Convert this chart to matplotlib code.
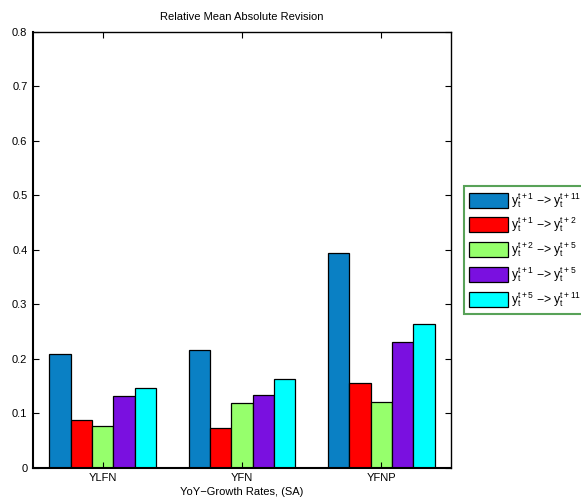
import matplotlib
matplotlib.use("Agg")
import matplotlib.pyplot as plt
import numpy as np

plt.rcParams['font.family'] = ['Liberation Sans', 'DejaVu Sans']
plt.rcParams['mathtext.fontset'] = 'custom'
plt.rcParams['mathtext.rm'] = 'Liberation Sans'
plt.rcParams['mathtext.it'] = 'Liberation Sans'

categories = ["YLFN", "YFN", "YFNP"]
series_labels = [r"$\mathregular{y_t^{t+1}}$ −> $\mathregular{y_t^{t+11}}$",
                 r"$\mathregular{y_t^{t+1}}$ −> $\mathregular{y_t^{t+2}}$",
                 r"$\mathregular{y_t^{t+2}}$ −> $\mathregular{y_t^{t+5}}$",
                 r"$\mathregular{y_t^{t+1}}$ −> $\mathregular{y_t^{t+5}}$",
                 r"$\mathregular{y_t^{t+5}}$ −> $\mathregular{y_t^{t+11}}$"]
s1 = [0.209, 0.217, 0.394]
s2 = [0.088, 0.072, 0.155]
s3 = [0.077, 0.119, 0.121]
s4 = [0.132, 0.134, 0.230]
s5 = [0.147, 0.162, 0.263]
series = [s1, s2, s3, s4, s5]
colors = ["#0a80c4", "#ff0000", "#96ff6c", "#7a10e0", "#00ffff"]

fig = plt.figure(figsize=(5.81, 5.04), dpi=100)
ax = fig.add_axes([33/581, (504-467.7)/504, (451-33)/581, (467.7-32)/504])

x = np.arange(1, len(categories) + 1)
w = 0.153
for i, (vals, c, lab) in enumerate(zip(series, colors, series_labels)):
    ax.bar(x + (i - 2) * w, vals, width=w, color=c, edgecolor='black',
           linewidth=0.9, label=lab)

ax.set_xlim(0.5, 3.5)
ax.set_ylim(0, 0.8)
ax.set_yticks(np.arange(0, 0.81, 0.1))
ax.set_yticklabels(["0", "0.1", "0.2", "0.3", "0.4", "0.5", "0.6", "0.7", "0.8"])
ax.set_xticks(x)
ax.set_xticklabels(categories)
ax.tick_params(direction='in', top=True, right=True, labelsize=8, length=4, width=0.8, pad=4)
for s in ax.spines.values():
    s.set_linewidth(1.0)
ax.spines['left'].set_linewidth(1.5)
ax.spines['bottom'].set_linewidth(1.5)
ax.set_title("Relative Mean Absolute Revision", fontsize=8, pad=9)
ax.set_xlabel("YoY−Growth Rates, (SA)", fontsize=8, labelpad=3)

leg = ax.legend(loc='upper left', bbox_to_anchor=(464/581, 1 - 186/504),
                bbox_transform=fig.transFigure, fontsize=8.8, frameon=True,
                fancybox=False, edgecolor='#2e8b2e', handlelength=3.2,
                handleheight=1.5, handletextpad=0.25, labelspacing=0.5,
                borderpad=0.4, borderaxespad=0)
leg.get_frame().set_linewidth(1.5)

fig.savefig("out.png", dpi=100)
